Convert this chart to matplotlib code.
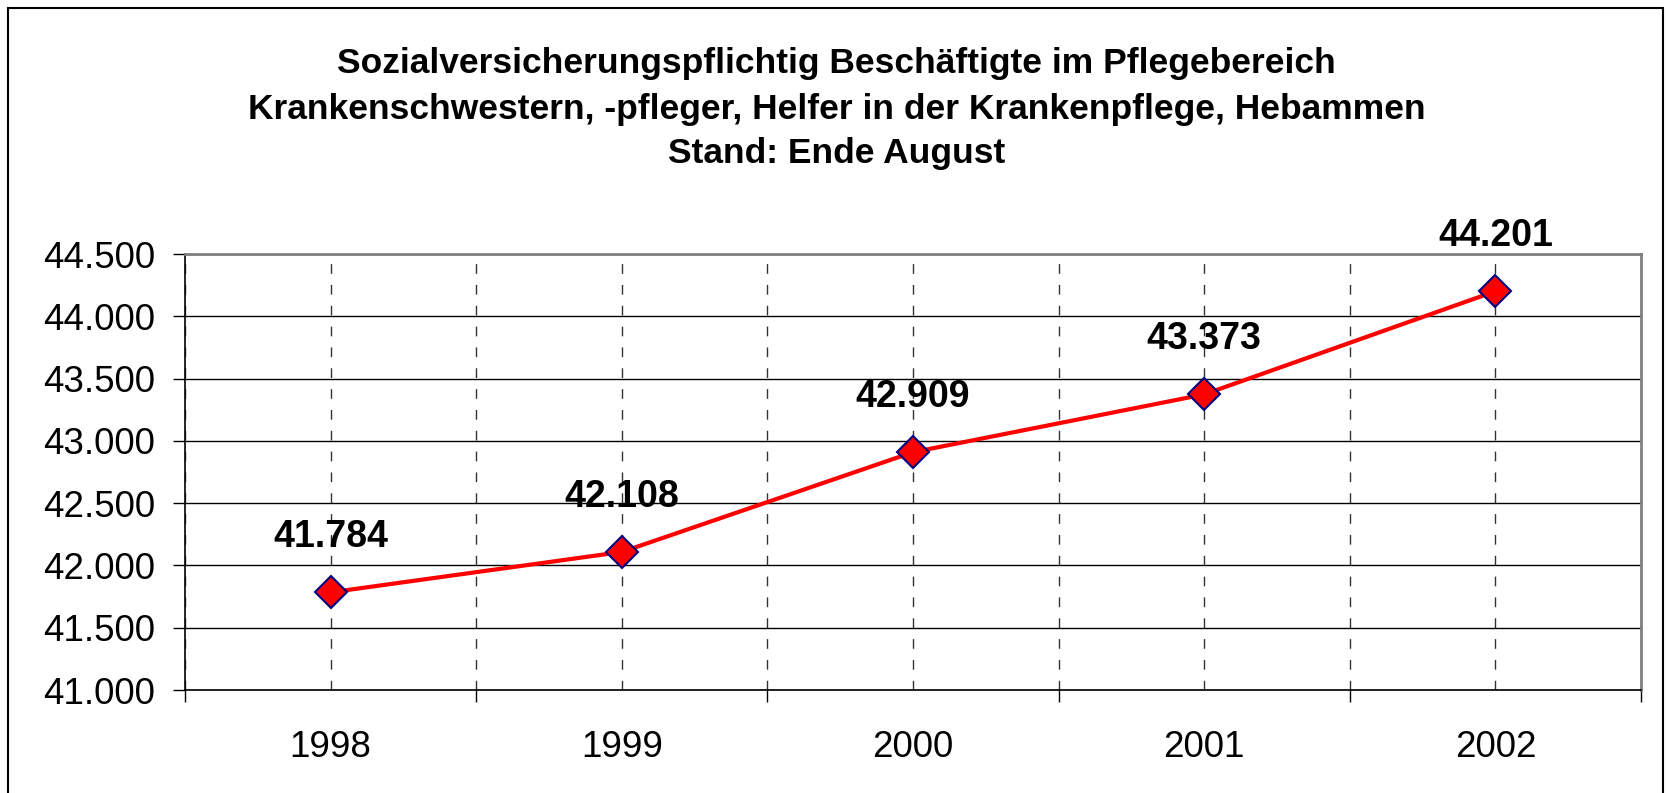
import matplotlib.pyplot as plt
from matplotlib.patches import Rectangle
from matplotlib.ticker import FuncFormatter, MultipleLocator
import numpy as np

plt.rcParams['font.family'] = ['Liberation Sans', 'DejaVu Sans']

years = ['1998', '1999', '2000', '2001', '2002']
employees = [41784, 42108, 42909, 43373, 44201]
title_lines = [
    'Sozialversicherungspflichtig Beschäftigte im Pflegebereich',
    'Krankenschwestern, -pfleger, Helfer in der Krankenpflege, Hebammen',
    'Stand: Ende August',
]


def de_thousands(v, pos=None):
    return f'{int(round(v)):,}'.replace(',', '.')


W, H = 1666, 793
fig = plt.figure(figsize=(W / 100, H / 100), dpi=100)
ax = fig.add_axes([185 / W, 1 - 690 / H, (1641 - 185) / W, (690 - 254) / H])

x = np.arange(1, len(years) + 1)
ax.plot(x, employees, color='#ff0000', lw=3, marker='D', ms=16,
        mfc='#ff0000', mec='#000080', mew=1.5, zorder=5, clip_on=False)

for xi, v in zip(x, employees):
    ax.annotate(de_thousands(v), (xi, v), xytext=(0, 55), textcoords='offset pixels',
                ha='center', va='center', fontsize=27, fontweight='bold')

ax.set_xlim(0.5, len(years) + 0.5)
ax.set_ylim(41000, 44500)
ax.yaxis.set_major_locator(MultipleLocator(500))
ax.yaxis.set_major_formatter(FuncFormatter(de_thousands))
ax.set_xticks(x)
ax.set_xticklabels(years)
ax.set_xticks(np.arange(0.5, len(years) + 1), minor=True)

ax.tick_params(axis='y', which='major', length=8.6, width=1, pad=13, labelsize=26.5)
ax.tick_params(axis='x', which='major', length=0, pad=29, labelsize=26.5)
ax.tick_params(axis='x', which='minor', length=8.6, width=1)

ax.grid(axis='y', which='major', color='black', lw=1)
ax.grid(axis='x', which='both', color='#333333', lw=1, ls=(0, (7, 8)))
ax.set_axisbelow(True)

for side in ['top', 'right']:
    ax.spines[side].set_color('#808080')
    ax.spines[side].set_linewidth(2)
for side in ['left', 'bottom']:
    ax.spines[side].set_color('black')
    ax.spines[side].set_linewidth(1.2)

for i, line in enumerate(title_lines):
    fig.text(0.502, 1 - (64 + 45 * i) / H, line, ha='center', va='center',
             fontsize=25.5, fontweight='bold')

fig.patches.append(Rectangle((8 / W, -0.05), (1663 - 8) / W, 1 - 8 / H + 0.05,
                             transform=fig.transFigure, fill=False,
                             edgecolor='black', lw=1.5))

fig.savefig('out.png', dpi=100)
